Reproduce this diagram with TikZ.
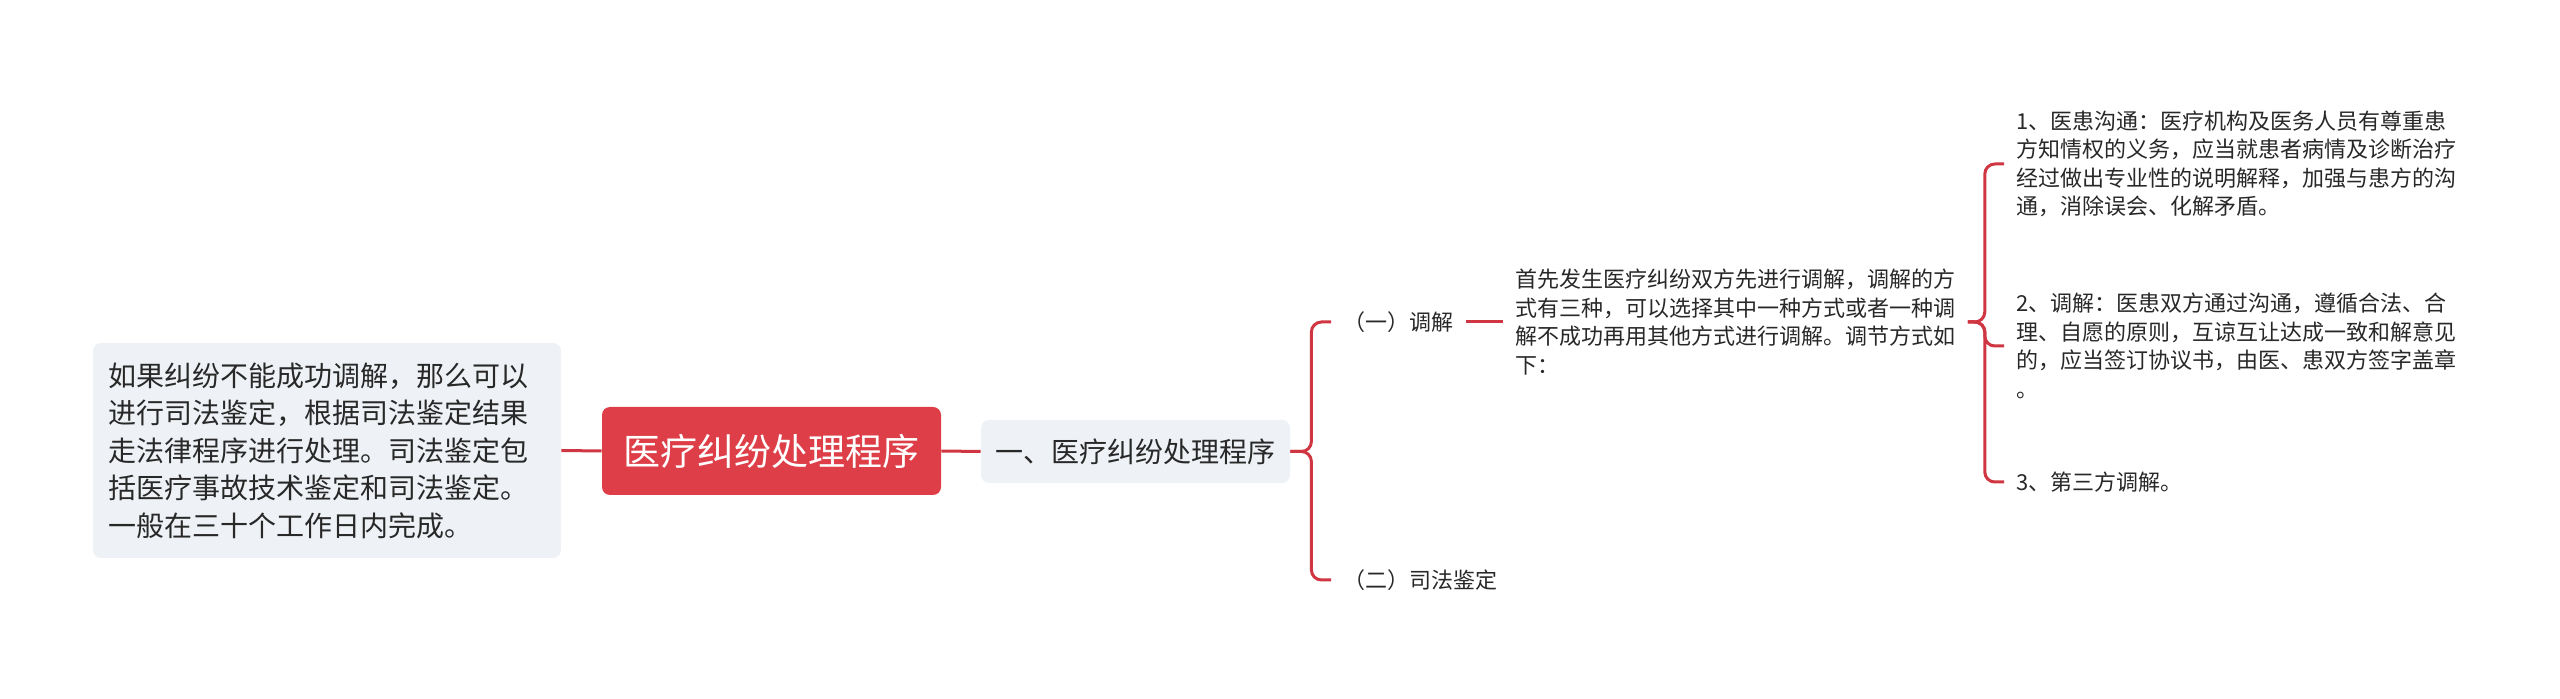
\documentclass[tikz,border=0pt]{standalone}
\usepackage{fontspec}
\setmainfont{Noto Sans CJK SC}
\definecolor{rootred}{RGB}{221,62,71}
\definecolor{linkred}{RGB}{208,54,66}
\definecolor{boxgray}{RGB}{238,241,245}
\definecolor{txtdark}{RGB}{40,40,40}
\begin{document}
\begin{tikzpicture}[x=0.5pt, y=-0.5pt,
    link/.style={draw=linkred, line width=1.5pt, rounded corners=5pt},
    softbox/.style={fill=boxgray, rounded corners=4pt, text=txtdark},
    leaf/.style={anchor=west, inner xsep=6pt, inner ysep=2pt, align=left, text=txtdark, font=\fontsize{11}{14.25}\selectfont}]
    \useasboundingbox (0,0) rectangle (2560,699);

    % Root
    \node[fill=rootred, rounded corners=4pt, text=white, minimum width=169.5pt, minimum height=44pt,
          inner sep=0pt, font=\fontsize{18.5}{22}\selectfont] (root) at (771.5,451) {医疗纠纷处理程序};

    % Note on the left
    \node[softbox, text width=219pt, inner xsep=7.5pt, minimum height=107.5pt, align=left,
          font=\fontsize{14}{18.75}\selectfont] (note) at (327,450.5) {如果纠纷不能成功调解，那么可以\\进行司法鉴定，根据司法鉴定结果\\走法律程序进行处理。司法鉴定包\\括医疗事故技术鉴定和司法鉴定。\\一般在三十个工作日内完成。};

    % First level
    \node[softbox, minimum width=154.5pt, minimum height=31.5pt, inner sep=0pt,
          font=\fontsize{14}{16}\selectfont] (sec) at (1135.5,451.5) {一、医疗纠纷处理程序};

    % Second level
    \node[leaf] (med) at (1331,322) {（一）调解};
    \node[leaf] (jud) at (1331,580) {（二）司法鉴定};

    % Mediation text
    \node[leaf] (way) at (1503,322) {首先发生医疗纠纷双方先进行调解，调解的方\\式有三种，可以选择其中一种方式或者一种调\\解不成功再用其他方式进行调解。调节方式如\\下：};

    % Three ways
    \node[leaf] (c1) at (2004,164) {1、医患沟通：医疗机构及医务人员有尊重患\\方知情权的义务，应当就患者病情及诊断治疗\\经过做出专业性的说明解释，加强与患方的沟\\通，消除误会、化解矛盾。};
    \node[leaf] (c2) at (2004,346) {2、调解：医患双方通过沟通，遵循合法、合\\理、自愿的原则，互谅互让达成一致和解意见\\的，应当签订协议书，由医、患双方签字盖章\\。};
    \node[leaf] (c3) at (2004,482) {3、第三方调解。};

    % Connectors
    \draw[link] (note.east) -- (root.west);
    \draw[link] (root.east) -- (sec.west);
    \foreach \n in {med,jud} {
        \draw[link] (sec.east) -- ++(21,0) |- (\n.west);
    }
    \draw[link] (med.east) -- (way.west);
    \foreach \n in {c1,c2,c3} {
        \draw[link] (way.east) -- ++(17,0) |- (\n.west);
    }
\end{tikzpicture}
\end{document}
